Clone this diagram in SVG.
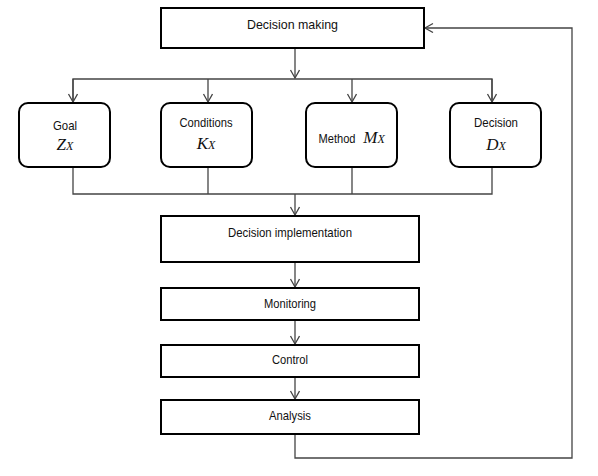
<svg xmlns="http://www.w3.org/2000/svg" width="598" height="476" viewBox="0 0 598 476">
<defs>
<marker id="arr" markerWidth="12" markerHeight="12" refX="9" refY="5" orient="auto" markerUnits="userSpaceOnUse">
<path d="M1,0.5 L9,5 L1,9.5" fill="none" stroke="#444" stroke-width="1.3"/>
</marker>
<style>
.box{fill:#fff;stroke:#000;stroke-width:2}
.rbox{fill:#fff;stroke:#000;stroke-width:2}
.lbl{font-family:"Liberation Sans",Arial,sans-serif;font-size:13px;fill:#111;text-anchor:middle}
.math{font-family:"Liberation Serif","Times New Roman",serif;font-style:italic;font-size:17px;fill:#111;text-anchor:middle}
.sub{font-size:12px}
.conn{fill:none;stroke:#444;stroke-width:1.3}
</style>
</defs>
<rect width="598" height="476" fill="#fff"/>
<g id="connectors">
<line class="conn" x1="295" y1="48" x2="295" y2="78" marker-end="url(#arr)"/>
<polyline class="conn" points="73,103 73,79 492,79 492,103"/>
<line class="conn" x1="73" y1="79" x2="73" y2="102" marker-end="url(#arr)"/>
<line class="conn" x1="208" y1="79" x2="208" y2="102" marker-end="url(#arr)"/>
<line class="conn" x1="352" y1="79" x2="352" y2="102" marker-end="url(#arr)"/>
<line class="conn" x1="492" y1="79" x2="492" y2="102" marker-end="url(#arr)"/>
<polyline class="conn" points="73,167 73,194 492,194 492,167"/>
<line class="conn" x1="208" y1="167" x2="208" y2="194"/>
<line class="conn" x1="352" y1="167" x2="352" y2="194"/>
<line class="conn" x1="295" y1="194" x2="295" y2="215" marker-end="url(#arr)"/>
<line class="conn" x1="295" y1="262" x2="295" y2="287" marker-end="url(#arr)"/>
<line class="conn" x1="295" y1="320" x2="295" y2="344" marker-end="url(#arr)"/>
<line class="conn" x1="295" y1="377" x2="295" y2="399" marker-end="url(#arr)"/>
<polyline class="conn" points="295,434 295,458 572,458 572,28 425,28" marker-end="url(#arr)"/>
</g>
<g id="decision-making">
<rect class="box" x="161" y="8" width="263" height="40"/>
<text class="lbl" x="292.5" y="29" textLength="91" lengthAdjust="spacingAndGlyphs">Decision making</text>
</g>
<g id="goal">
<rect class="rbox" x="19" y="103" width="91" height="64" rx="9"/>
<text class="lbl" x="65" y="130" textLength="24" lengthAdjust="spacingAndGlyphs">Goal</text>
<text class="math" x="65" y="150">Z<tspan class="sub">X</tspan></text>
</g>
<g id="conditions">
<rect class="rbox" x="161" y="103" width="91" height="64" rx="9"/>
<text class="lbl" x="206" y="127" textLength="53" lengthAdjust="spacingAndGlyphs">Conditions</text>
<text class="math" x="206" y="149">K<tspan class="sub">X</tspan></text>
</g>
<g id="method">
<rect class="rbox" x="306" y="103" width="91" height="64" rx="9"/>
<text class="lbl" x="337" y="143" textLength="37" lengthAdjust="spacingAndGlyphs">Method</text>
<text class="math" x="374" y="143">M<tspan class="sub">X</tspan></text>
</g>
<g id="decision">
<rect class="rbox" x="450" y="103" width="91" height="64" rx="9"/>
<text class="lbl" x="496" y="127" textLength="44" lengthAdjust="spacingAndGlyphs">Decision</text>
<text class="math" x="496" y="150">D<tspan class="sub">X</tspan></text>
</g>
<g id="decision-implementation">
<rect class="box" x="161" y="216" width="258" height="46"/>
<text class="lbl" x="290" y="237" textLength="124" lengthAdjust="spacingAndGlyphs">Decision implementation</text>
</g>
<g id="monitoring">
<rect class="box" x="161" y="288" width="258" height="32"/>
<text class="lbl" x="290" y="308" textLength="52" lengthAdjust="spacingAndGlyphs">Monitoring</text>
</g>
<g id="control">
<rect class="box" x="161" y="345" width="258" height="32"/>
<text class="lbl" x="290" y="364" textLength="36" lengthAdjust="spacingAndGlyphs">Control</text>
</g>
<g id="analysis">
<rect class="box" x="161" y="400" width="258" height="34"/>
<text class="lbl" x="290" y="420" textLength="42" lengthAdjust="spacingAndGlyphs">Analysis</text>
</g>
</svg>
